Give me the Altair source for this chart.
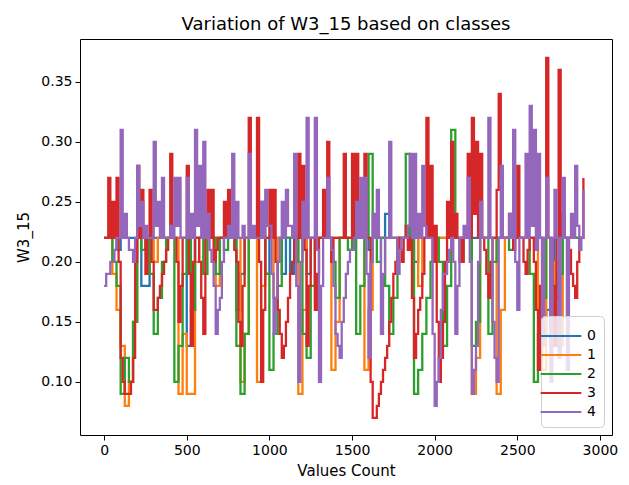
import altair as alt
import pandas as pd

# x positions (Values Count index) at which the series were read
values_count = list(range(0, 2901, 25))
# extra read-off positions half-way between them (used for the dense classes 3 and 4)
values_count_mid = [v + 12.5 for v in range(0, 2900, 25)]

class_0 = [0.22,0.22,0.22,0.21,0.22,0.22,0.22,0.22,0.22,0.18,
           0.18,0.22,0.22,0.22,0.22,0.22,0.22,0.22,0.22,0.22,
           0.13,0.16,0.22,0.22,0.22,0.22,0.22,0.22,0.22,0.22,
           0.22,0.22,0.16,0.19,0.22,0.22,0.22,0.22,0.22,0.19,
           0.22,0.22,0.22,0.19,0.22,0.19,0.22,0.22,0.22,0.19,
           0.22,0.22,0.22,0.22,0.22,0.22,0.22,0.22,0.22,0.22,
           0.22,0.22,0.22,0.22,0.21,0.22,0.22,0.22,0.24,0.22,
           0.22,0.22,0.22,0.22,0.22,0.20,0.22,0.22,0.22,0.22,
           0.22,0.22,0.22,0.22,0.22,0.22,0.22,0.22,0.22,0.22,
           0.22,0.22,0.22,0.22,0.22,0.22,0.22,0.22,0.22,0.22,
           0.22,0.22,0.22,0.22,0.22,0.22,0.14,0.16,0.14,0.22,
           0.22,0.22,0.22,0.22,0.22,0.22,0.22]

class_1 = [0.22,0.22,0.19,0.16,0.13,0.08,0.10,0.15,0.22,0.22,
           0.22,0.22,0.20,0.22,0.22,0.22,0.22,0.22,0.09,0.14,
           0.09,0.09,0.20,0.22,0.22,0.22,0.22,0.18,0.22,0.22,
           0.22,0.22,0.22,0.10,0.14,0.22,0.22,0.10,0.18,0.22,
           0.22,0.17,0.22,0.22,0.22,0.22,0.22,0.09,0.16,0.22,
           0.22,0.22,0.22,0.22,0.22,0.11,0.15,0.22,0.22,0.22,
           0.22,0.22,0.22,0.11,0.16,0.22,0.22,0.22,0.22,0.22,
           0.22,0.22,0.22,0.22,0.22,0.22,0.18,0.22,0.22,0.22,
           0.22,0.22,0.22,0.22,0.22,0.22,0.22,0.22,0.22,0.09,
           0.12,0.22,0.22,0.22,0.22,0.09,0.16,0.22,0.22,0.22,
           0.22,0.22,0.22,0.22,0.22,0.16,0.11,0.22,0.13,0.20,
           0.13,0.22,0.22,0.22,0.22,0.22,0.22]

class_2 = [0.22,0.22,0.20,0.18,0.09,0.12,0.10,0.15,0.22,0.21,
           0.22,0.19,0.14,0.17,0.20,0.22,0.22,0.10,0.13,0.19,
           0.22,0.16,0.22,0.22,0.19,0.22,0.22,0.19,0.22,0.21,
           0.22,0.22,0.13,0.09,0.14,0.22,0.22,0.22,0.25,0.19,
           0.11,0.14,0.18,0.22,0.22,0.22,0.20,0.22,0.14,0.12,
           0.18,0.22,0.22,0.22,0.22,0.20,0.17,0.22,0.22,0.21,
           0.22,0.14,0.18,0.22,0.29,0.22,0.20,0.22,0.18,0.14,
           0.17,0.22,0.22,0.29,0.22,0.09,0.11,0.14,0.17,0.20,
           0.22,0.20,0.13,0.18,0.31,0.22,0.20,0.22,0.22,0.13,
           0.15,0.22,0.22,0.14,0.20,0.22,0.22,0.22,0.21,0.22,
           0.22,0.22,0.22,0.19,0.10,0.14,0.17,0.22,0.13,0.17,
           0.19,0.22,0.22,0.22,0.22,0.22,0.22]

class_3 = [0.22,0.27,0.25,0.27,0.12,0.09,0.09,0.12,0.28,0.26,
           0.19,0.26,0.16,0.17,0.19,0.21,0.29,0.22,0.15,0.22,
           0.28,0.13,0.22,0.20,0.14,0.26,0.26,0.21,0.22,0.25,
           0.26,0.22,0.20,0.13,0.22,0.32,0.22,0.32,0.10,0.22,
           0.26,0.26,0.16,0.12,0.15,0.19,0.22,0.29,0.28,0.13,
           0.22,0.16,0.22,0.26,0.30,0.20,0.22,0.22,0.29,0.22,
           0.29,0.29,0.22,0.29,0.22,0.07,0.08,0.10,0.12,0.15,
           0.19,0.22,0.20,0.23,0.22,0.12,0.16,0.19,0.32,0.28,
           0.23,0.10,0.15,0.25,0.30,0.24,0.22,0.22,0.29,0.32,
           0.30,0.29,0.21,0.17,0.22,0.26,0.27,0.22,0.24,0.21,
           0.28,0.22,0.19,0.22,0.20,0.11,0.22,0.37,0.22,0.13,
           0.36,0.24,0.22,0.19,0.17,0.22,0.27]
class_3_mid = [0.22,0.22,0.22,0.20,0.10,0.09,0.10,0.20,0.22,0.22,
               0.22,0.20,0.16,0.18,0.20,0.22,0.22,0.20,0.18,0.22,
               0.19,0.20,0.22,0.17,0.22,0.22,0.20,0.22,0.22,0.22,
               0.22,0.21,0.15,0.18,0.22,0.22,0.22,0.20,0.16,0.22,
               0.22,0.20,0.14,0.13,0.17,0.20,0.22,0.22,0.21,0.18,
               0.22,0.19,0.22,0.22,0.22,0.22,0.22,0.22,0.22,0.22,
               0.22,0.22,0.22,0.22,0.10,0.07,0.09,0.11,0.13,0.17,
               0.20,0.21,0.22,0.21,0.17,0.14,0.17,0.22,0.22,0.20,
               0.15,0.12,0.20,0.22,0.22,0.22,0.20,0.22,0.22,0.24,
               0.22,0.22,0.19,0.20,0.22,0.34,0.22,0.22,0.22,0.22,
               0.22,0.20,0.21,0.22,0.16,0.18,0.22,0.22,0.18,0.22,
               0.22,0.22,0.21,0.18,0.20,0.22]

class_4 = [0.18,0.19,0.20,0.22,0.31,0.24,0.21,0.20,0.28,0.25,
           0.23,0.22,0.30,0.25,0.27,0.22,0.23,0.27,0.27,0.22,
           0.27,0.24,0.31,0.28,0.30,0.24,0.20,0.14,0.17,0.22,
           0.23,0.29,0.25,0.22,0.22,0.29,0.23,0.22,0.25,0.26,
           0.23,0.14,0.20,0.25,0.26,0.23,0.29,0.10,0.25,0.32,
           0.22,0.32,0.10,0.22,0.27,0.21,0.14,0.12,0.17,0.20,
           0.21,0.25,0.27,0.27,0.12,0.24,0.26,0.14,0.22,0.30,
           0.22,0.19,0.22,0.22,0.29,0.29,0.24,0.28,0.22,0.22,
           0.08,0.12,0.19,0.20,0.22,0.14,0.22,0.23,0.27,0.09,
           0.13,0.25,0.22,0.32,0.15,0.10,0.28,0.22,0.24,0.31,
           0.16,0.22,0.29,0.33,0.31,0.29,0.13,0.27,0.10,0.26,
           0.12,0.27,0.11,0.24,0.28,0.21,0.26]
class_4_mid = [0.19,0.20,0.21,0.22,0.22,0.22,0.21,0.22,0.23,0.22,
               0.22,0.22,0.23,0.22,0.22,0.22,0.22,0.23,0.22,0.22,
               0.22,0.22,0.23,0.22,0.22,0.21,0.18,0.16,0.20,0.22,
               0.22,0.22,0.22,0.23,0.22,0.22,0.22,0.22,0.22,0.23,
               0.19,0.17,0.22,0.22,0.23,0.22,0.18,0.20,0.22,0.22,
               0.22,0.21,0.18,0.22,0.22,0.18,0.13,0.15,0.19,0.21,
               0.22,0.22,0.22,0.19,0.20,0.22,0.22,0.19,0.22,0.22,
               0.22,0.21,0.22,0.23,0.22,0.22,0.22,0.23,0.22,0.14,
               0.10,0.16,0.19,0.21,0.20,0.18,0.22,0.22,0.20,0.11,
               0.20,0.22,0.22,0.22,0.12,0.22,0.22,0.22,0.22,0.20,
               0.22,0.22,0.22,0.23,0.21,0.22,0.22,0.22,0.22,0.22,
               0.22,0.22,0.22,0.22,0.23,0.22]

classes = ["0", "1", "2", "3", "4"]
colors = ["#1f77b4", "#ff7f0e", "#2ca02c", "#d62728", "#9467bd"]
series = [(class_0, []), (class_1, []), (class_2, []),
          (class_3, class_3_mid), (class_4, class_4_mid)]
x_ticks = [0, 500, 1000, 1500, 2000, 2500, 3000]
y_ticks = [0.10, 0.15, 0.20, 0.25, 0.30, 0.35]

rows = []
for c, (main, mid) in zip(classes, series):
    for xv, yv in zip(values_count, main):
        rows.append({"idx": xv, "w": yv, "cls": c})
    for xv, yv in zip(values_count_mid, mid):
        rows.append({"idx": xv, "w": yv, "cls": c})
df = pd.DataFrame(rows).sort_values(["cls", "idx"]).reset_index(drop=True)

color = alt.Color(
    "cls:N",
    scale=alt.Scale(domain=classes, range=colors),
    legend=alt.Legend(
        title=None, orient="bottom-right", offset=8,
        fillColor="rgba(255,255,255,0.8)", strokeColor="#d0d0d0",
        cornerRadius=4, padding=8, symbolType="M-1.85,0L1.85,0",
        symbolStrokeWidth=2, symbolSize=484,
        labelFontSize=14, labelFont="DejaVu Sans", labelColor="#000000",
        rowPadding=0, labelOffset=14,
    ),
)
x = alt.X("idx:Q", scale=alt.Scale(domain=[-146, 3073], nice=False, zero=False),
          axis=alt.Axis(values=x_ticks, title="Values Count", format="d"))
y = alt.Y("w:Q", scale=alt.Scale(domain=[0.0558, 0.3858], nice=False, zero=False),
          axis=alt.Axis(values=y_ticks, title="W3_15", format=".2f"))

layers = [
    alt.Chart(df).transform_filter(alt.datum.cls == c)
    .mark_line(interpolate="step-after", strokeWidth=2.3, clip=True)
    .encode(x=x, y=y, color=color)
    for c in classes
]

chart = alt.layer(*layers).properties(
    width=532, height=396,
    title=alt.TitleParams("Variation of W3_15 based on classes", fontSize=18,
                          font="DejaVu Sans", fontWeight="normal", color="#000000",
                          offset=5, anchor="middle"),
    autosize=alt.AutoSizeParams(type="none"),
    padding={"left": 80, "top": 39, "right": 17, "bottom": 50},
).configure_view(stroke="#000000", strokeWidth=1).configure_axis(
    domain=False, grid=False, tickColor="#000000", tickSize=5,
    labelFont="DejaVu Sans", labelFontSize=14, labelColor="#000000", labelPadding=3,
    titleFont="DejaVu Sans", titleFontSize=15, titleColor="#000000",
    titleFontWeight="normal",
).configure_axisX(titlePadding=6).configure_axisY(titlePadding=9)

chart.save("out.html", embed_options={"renderer": "svg", "actions": False})
